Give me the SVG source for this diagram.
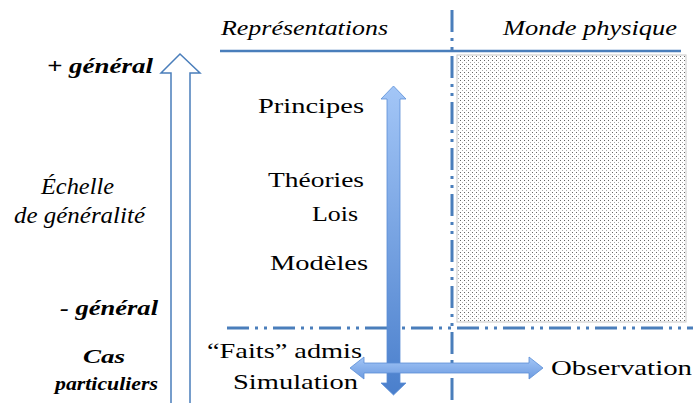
<svg xmlns="http://www.w3.org/2000/svg" width="693" height="403" viewBox="0 0 693 403">
<style>
.t{font-family:"Liberation Serif","DejaVu Serif",serif;fill:#000}
.i{font-style:italic}
.b{font-weight:bold}
.dd{fill:none;stroke:#4a7ebb;stroke-width:3;stroke-dasharray:22 6 3 6 3 6}
</style>
<defs>
<pattern id="dots" width="4" height="4" patternUnits="userSpaceOnUse">
<rect width="4" height="4" fill="#fff"/>
<rect x="0" y="0" width="1" height="1" fill="#666"/>
<rect x="2" y="2" width="1" height="1" fill="#aaa"/>
</pattern>
<linearGradient id="vg" x1="0" y1="0" x2="0" y2="1">
<stop offset="0" stop-color="#a3c6f7"/>
<stop offset="1" stop-color="#4a7fcc"/>
</linearGradient>
<linearGradient id="hg" x1="0" y1="0" x2="0" y2="1">
<stop offset="0" stop-color="#a3c6f7"/>
<stop offset="1" stop-color="#6d9be0"/>
</linearGradient>
</defs>
<rect width="693" height="403" fill="#fff"/>

<g id="physical-world">
<rect x="457" y="55" width="229" height="267" fill="url(#dots)" stroke="#c8c8c8" stroke-width="1"/>
</g>

<g id="connectors">
<line x1="220" y1="51" x2="681" y2="51" stroke="#4a7ebb" stroke-width="2.5"/>
<line class="dd" x1="452" y1="10" x2="452" y2="403"/>
<line class="dd" x1="227" y1="328" x2="693" y2="328"/>
<path id="scale-arrow" d="M180,54 L200,73 L190,73 L190,404 L171,404 L171,73 L161,73 Z" fill="#fff" stroke="#4a7ebb" stroke-width="1.5"/>
<path id="vertical-arrow" d="M393.5,86 L406,99 L400,99 L400,383 L406,383 L393.5,395 L381,383 L387,383 L387,99 L381,99 Z" fill="url(#vg)" stroke="#5b8ed6" stroke-width="0.8"/>
<path id="horizontal-arrow" d="M350,368 L364,357 L364,363 L529,363 L529,357 L543,368 L529,379 L529,373 L364,373 L364,379 Z" fill="url(#hg)" stroke="#5b8ed6" stroke-width="0.8"/>
</g>

<g id="headers">
<text class="t i" x="221" y="35" font-size="22" textLength="167" lengthAdjust="spacingAndGlyphs">Représentations</text>
<text class="t i" x="503" y="35" font-size="22" textLength="174" lengthAdjust="spacingAndGlyphs">Monde physique</text>
</g>

<g id="scale-labels">
<text class="t i b" x="47" y="73" font-size="22" textLength="106" lengthAdjust="spacingAndGlyphs">+ général</text>
<text class="t i" x="41" y="194" font-size="23" textLength="73" lengthAdjust="spacingAndGlyphs">Échelle</text>
<text class="t i" x="14" y="223" font-size="23" textLength="131" lengthAdjust="spacingAndGlyphs">de généralité</text>
<text class="t i b" x="60" y="315" font-size="22" textLength="98" lengthAdjust="spacingAndGlyphs">- général</text>
<text class="t i b" x="83" y="363" font-size="18" textLength="42" lengthAdjust="spacingAndGlyphs">Cas</text>
<text class="t i b" x="55" y="390" font-size="18" textLength="103" lengthAdjust="spacingAndGlyphs">particuliers</text>
</g>

<g id="levels">
<text class="t" x="258" y="113" font-size="22" textLength="106" lengthAdjust="spacingAndGlyphs">Principes</text>
<text class="t" x="268" y="187" font-size="22" textLength="96" lengthAdjust="spacingAndGlyphs">Théories</text>
<text class="t" x="312" y="221" font-size="22" textLength="46" lengthAdjust="spacingAndGlyphs">Lois</text>
<text class="t" x="270" y="270" font-size="22" textLength="98" lengthAdjust="spacingAndGlyphs">Modèles</text>
<text class="t" x="207" y="358" font-size="22" textLength="155" lengthAdjust="spacingAndGlyphs">“Faits” admis</text>
<text class="t" x="233" y="389" font-size="22" textLength="125" lengthAdjust="spacingAndGlyphs">Simulation</text>
<text class="t" x="551" y="375" font-size="22" textLength="141" lengthAdjust="spacingAndGlyphs">Observation</text>
</g>
</svg>
